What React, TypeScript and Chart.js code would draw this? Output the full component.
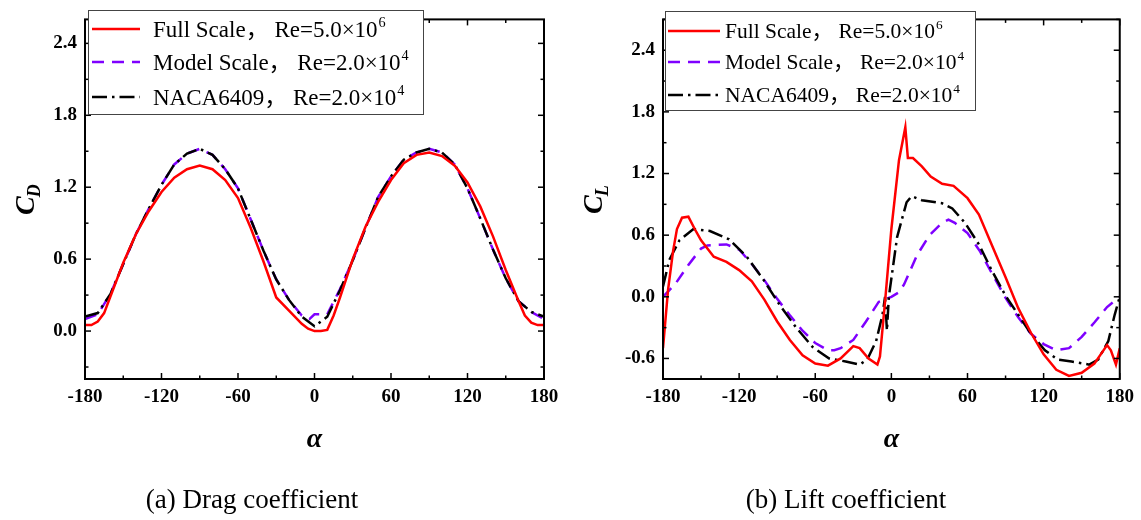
import React, { useEffect, useRef } from "react";
import { Chart, registerables } from "chart.js";

Chart.register(...registerables);

const SERIF = "'Times New Roman', 'Liberation Serif', Times, 'Noto Sans CJK SC', serif";

// ---------- data ----------
const alphaTicks = [-180, -120, -60, 0, 60, 120, 180];
const cdTicks = [0, 0.6, 1.2, 1.8, 2.4];
const clTicks = [-0.6, 0, 0.6, 1.2, 1.8, 2.4];

const seriesNames = ["Full Scale", "Model Scale", "NACA6409"];
const reynoldsText = ["Re=5.0×10", "Re=2.0×10", "Re=2.0×10"];
const reynoldsExp = ["6", "4", "4"];

// Drag coefficient
const cdFullAlpha = [-180, -175, -170, -165, -160, -150, -140, -130, -120, -110, -100, -90, -80, -70, -60, -50, -40, -30, -20, -10, -5, 0, 5, 10, 15, 20, 30, 40, 50, 60, 70, 80, 90, 100, 110, 120, 130, 140, 150, 160, 165, 170, 175, 180];
const cdFull = [0.05, 0.05, 0.08, 0.15, 0.29, 0.57, 0.81, 1.0, 1.16, 1.28, 1.35, 1.38, 1.35, 1.26, 1.11, 0.86, 0.58, 0.28, 0.17, 0.06, 0.02, 0.0, 0.0, 0.01, 0.13, 0.28, 0.6, 0.87, 1.08, 1.26, 1.4, 1.47, 1.49, 1.46, 1.38, 1.24, 1.04, 0.79, 0.51, 0.25, 0.13, 0.07, 0.05, 0.05];

const cdModelAlpha = [-180, -170, -160, -150, -140, -130, -120, -110, -100, -90, -80, -70, -60, -50, -40, -30, -20, -10, -4, 0, 5, 10, 20, 30, 40, 50, 60, 70, 80, 90, 100, 110, 120, 130, 140, 150, 160, 170, 180];
const cdModel = [0.10, 0.14, 0.31, 0.56, 0.81, 1.02, 1.22, 1.39, 1.48, 1.52, 1.47, 1.35, 1.19, 0.93, 0.67, 0.43, 0.26, 0.13, 0.10, 0.14, 0.14, 0.14, 0.35, 0.59, 0.86, 1.12, 1.29, 1.43, 1.49, 1.52, 1.49, 1.39, 1.19, 0.94, 0.68, 0.44, 0.25, 0.16, 0.10];

const cdNacaAlpha = [-180, -170, -160, -150, -140, -130, -120, -110, -100, -90, -80, -70, -60, -50, -40, -30, -20, -10, 0, 10, 20, 30, 40, 50, 60, 70, 80, 90, 100, 110, 120, 130, 140, 150, 160, 170, 180];
const cdNaca = [0.12, 0.15, 0.31, 0.56, 0.81, 1.02, 1.22, 1.39, 1.48, 1.52, 1.47, 1.35, 1.19, 0.93, 0.67, 0.43, 0.26, 0.12, 0.04, 0.12, 0.34, 0.59, 0.86, 1.12, 1.29, 1.43, 1.49, 1.52, 1.49, 1.39, 1.19, 0.94, 0.68, 0.44, 0.25, 0.16, 0.12];

// Lift coefficient
const clFullAlpha = [-180, -176, -172, -169, -165, -160, -155, -150, -145, -140, -130, -120, -110, -100, -90, -80, -70, -60, -50, -40, -30, -25, -18, -11, -9, -5, 0, 6, 11, 13, 17, 24, 31, 40, 49, 60, 69, 79, 90, 100, 110, 120, 130, 140, 150, 160, 170, 173, 177, 180];
const clFull = [-0.5, 0.07, 0.45, 0.66, 0.77, 0.78, 0.66, 0.55, 0.47, 0.39, 0.34, 0.26, 0.15, -0.03, -0.24, -0.42, -0.57, -0.65, -0.67, -0.6, -0.48, -0.5, -0.6, -0.66, -0.58, -0.05, 0.66, 1.33, 1.65, 1.35, 1.35, 1.27, 1.17, 1.1, 1.08, 0.96, 0.8, 0.51, 0.19, -0.11, -0.35, -0.56, -0.71, -0.77, -0.74, -0.65, -0.47, -0.52, -0.66, -0.5];

const clModelAlpha = [-180, -170, -160, -150, -145, -130, -120, -110, -100, -90, -80, -70, -60, -50, -45, -40, -30, -20, -10, 0, 6, 10, 20, 30, 40, 45, 50, 60, 70, 80, 90, 100, 110, 120, 130, 140, 150, 160, 170, 180];
const clModel = [0, 0.13, 0.31, 0.47, 0.5, 0.51, 0.46, 0.32, 0.16, -0.02, -0.18, -0.33, -0.45, -0.52, -0.52, -0.5, -0.42, -0.24, -0.05, 0, 0.045, 0.12, 0.4, 0.6, 0.72, 0.75, 0.72, 0.62, 0.44, 0.21, -0.01, -0.2, -0.36, -0.46, -0.52, -0.5, -0.39, -0.25, -0.1, 0];

const clNacaAlpha = [-180, -175, -167, -156, -143, -128, -114, -101, -88, -75, -62, -49, -36, -25, -19, -12, -7, -5, -3.5, -2, 4.5, 8, 12, 16, 24, 40, 48, 58, 69, 79, 90, 100, 110, 121, 131, 142, 156, 163, 171, 176, 180];
const clNaca = [0.1, 0.36, 0.55, 0.66, 0.64, 0.56, 0.39, 0.17, -0.08, -0.3, -0.49, -0.6, -0.63, -0.66, -0.61, -0.43, -0.175, 0.0, -0.33, 0.0, 0.58, 0.74, 0.92, 0.98, 0.94, 0.91, 0.86, 0.72, 0.51, 0.26, 0.01, -0.175, -0.36, -0.52, -0.61, -0.63, -0.66, -0.61, -0.43, -0.175, 0.0];

// ---------- styles ----------
const seriesColors = ["#ff0000", "#7f00ff", "#000000"];
const seriesDashes: number[][] = [[], [12, 8], [15, 5, 2.5, 5]];
const seriesOrder = [0, 2, 1];

type Legend = { x: number; y: number; w: number; h: number; rows: number[]; lx0: number; lx1: number; tx: number; font: number };

type Panel = {
  left: number;
  width: number;
  yAxisWidth: number;
  padRight: number;
  yMin: number;
  yMax: number;
  yTicks: number[];
  sub: string;
  yTitleX: number;
  caption: string;
  captionX: number;
  series: { alpha: number[]; values: number[] }[];
  legend: Legend;
};

const panels: Panel[] = [
  {
    left: 0,
    width: 571,
    yAxisWidth: 85,
    padRight: 27,
    yMin: -0.4,
    yMax: 2.6,
    yTicks: cdTicks,
    sub: "D",
    yTitleX: 25,
    caption: "(a) Drag coefficient",
    captionX: 252,
    series: [
      { alpha: cdFullAlpha, values: cdFull },
      { alpha: cdModelAlpha, values: cdModel },
      { alpha: cdNacaAlpha, values: cdNaca },
    ],
    legend: { x: 88, y: 10, w: 335, h: 104, rows: [29, 62, 97], lx0: 92, lx1: 140, tx: 153, font: 23 },
  },
  {
    left: 571,
    width: 570,
    yAxisWidth: 92,
    padRight: 19,
    yMin: -0.8,
    yMax: 2.7,
    yTicks: clTicks,
    sub: "L",
    yTitleX: 22,
    caption: "(b) Lift coefficient",
    captionX: 275,
    series: [
      { alpha: clFullAlpha, values: clFull },
      { alpha: clModelAlpha, values: clModel },
      { alpha: clNacaAlpha, values: clNaca },
    ],
    legend: { x: 94, y: 11, w: 310, h: 99, rows: [31, 62, 95], lx0: 97, lx1: 149, tx: 154, font: 21.5 },
  },
];

function decorPlugin(p: Panel) {
  return {
    id: "decor",
    afterDatasetsDraw(chart: any) {
      const ctx: CanvasRenderingContext2D = chart.ctx;
      const ca = chart.chartArea;
      const xs = chart.scales.x;
      const ys = chart.scales.y;
      ctx.save();
      ctx.strokeStyle = "#000";
      ctx.fillStyle = "#000";
      ctx.lineWidth = 1.5;
      ctx.setLineDash([]);
      const seg = (x0: number, y0: number, x1: number, y1: number) => {
        ctx.beginPath();
        ctx.moveTo(x0, y0);
        ctx.lineTo(x1, y1);
        ctx.stroke();
      };
      // x ticks (inward, mirrored)
      for (let k = -6; k <= 6; k++) {
        const px = xs.getPixelForValue(k * 30);
        const len = k % 2 === 0 ? 6 : 3.5;
        seg(px, ca.bottom, px, ca.bottom - len);
        seg(px, ca.top, px, ca.top + len);
      }
      // y ticks (inward, mirrored)
      for (let k = Math.ceil(ys.min / 0.3 - 1e-6); k * 0.3 <= ys.max + 1e-6; k++) {
        const py = ys.getPixelForValue(k * 0.3);
        const len = k % 2 === 0 ? 6 : 3.5;
        seg(ca.left, py, ca.left + len, py);
        seg(ca.right, py, ca.right - len, py);
      }
      // frame
      ctx.lineWidth = 2;
      ctx.strokeRect(ca.left, ca.top, ca.right - ca.left, ca.bottom - ca.top);

      // legend
      const L = p.legend;
      ctx.fillStyle = "#fff";
      ctx.fillRect(L.x, L.y, L.w, L.h);
      ctx.strokeStyle = "#444";
      ctx.lineWidth = 1;
      ctx.strokeRect(L.x + 0.5, L.y + 0.5, L.w, L.h);
      for (let i = 0; i < 3; i++) {
        const ry = L.rows[i];
        ctx.strokeStyle = seriesColors[i];
        ctx.lineWidth = 2.5;
        ctx.setLineDash(seriesDashes[i]);
        seg(L.lx0, ry, L.lx1, ry);
        ctx.setLineDash([]);
        ctx.fillStyle = "#000";
        ctx.textBaseline = "alphabetic";
        ctx.textAlign = "left";
        ctx.font = `${L.font}px ${SERIF}`;
        const base = ry + L.font * 0.33;
        const main = `${seriesNames[i]}， ${reynoldsText[i]}`;
        ctx.fillText(main, L.tx, base);
        const w = ctx.measureText(main).width;
        ctx.font = `${L.font * 0.62}px ${SERIF}`;
        ctx.fillText(reynoldsExp[i], L.tx + w + 1, base - L.font * 0.4);
      }

      // y title C_sub rotated
      ctx.save();
      ctx.translate(p.yTitleX, (ca.top + ca.bottom) / 2);
      ctx.rotate(-Math.PI / 2);
      ctx.fillStyle = "#000";
      ctx.textBaseline = "alphabetic";
      ctx.textAlign = "left";
      ctx.font = `italic bold 28px ${SERIF}`;
      const wC = ctx.measureText("C").width;
      ctx.font = `italic bold 18px ${SERIF}`;
      const wS = ctx.measureText(p.sub).width;
      const sx = -(wC + wS) / 2;
      ctx.font = `italic bold 28px ${SERIF}`;
      ctx.fillText("C", sx, 9);
      ctx.font = `italic bold 18px ${SERIF}`;
      ctx.fillText(p.sub, sx + wC - 1, 15);
      ctx.restore();

      // x title
      ctx.fillStyle = "#000";
      ctx.textAlign = "center";
      ctx.textBaseline = "middle";
      ctx.font = `italic bold 28px ${SERIF}`;
      ctx.fillText("α", (ca.left + ca.right) / 2, 440);

      // caption
      ctx.textBaseline = "alphabetic";
      ctx.font = `27px ${SERIF}`;
      ctx.fillText(p.caption, p.captionX, 508);
      ctx.restore();
    },
  };
}

function buildConfig(p: Panel): any {
  const datasets = p.series.map((s, i) => ({
    label: seriesNames[i],
    data: s.alpha.map((a, j) => ({ x: a, y: s.values[j] })),
    borderColor: seriesColors[i],
    backgroundColor: seriesColors[i],
    borderWidth: 2.5,
    borderDash: seriesDashes[i],
    pointRadius: 0,
    tension: 0,
    fill: false,
    order: seriesOrder[i],
  }));
  const tickFont = { family: SERIF, size: 19, weight: "bold" as const };
  return {
    type: "line",
    data: { datasets },
    options: {
      responsive: false,
      maintainAspectRatio: false,
      animation: false,
      devicePixelRatio: 1,
      layout: { padding: { left: 0, top: 8, right: p.padRight, bottom: 0 } },
      plugins: { legend: { display: false }, tooltip: { enabled: false }, title: { display: false } },
      scales: {
        x: {
          type: "linear",
          min: -180,
          max: 180,
          afterBuildTicks: (ax: any) => {
            ax.ticks = alphaTicks.map((v) => ({ value: v }));
          },
          afterFit: (ax: any) => {
            ax.height = 520 - 379;
          },
          grid: { display: false, drawTicks: false },
          border: { display: false },
          ticks: {
            font: tickFont,
            color: "#000",
            padding: 7,
            maxRotation: 0,
            autoSkip: false,
            callback: (v: any) => String(v),
          },
        },
        y: {
          type: "linear",
          min: p.yMin,
          max: p.yMax,
          afterBuildTicks: (ax: any) => {
            ax.ticks = p.yTicks.map((v) => ({ value: v }));
          },
          afterFit: (ax: any) => {
            ax.width = p.yAxisWidth;
          },
          grid: { display: false, drawTicks: false },
          border: { display: false },
          ticks: {
            font: tickFont,
            color: "#000",
            padding: 8,
            autoSkip: false,
            callback: (v: any) => Number(v).toFixed(1),
          },
        },
      },
    },
    plugins: [decorPlugin(p)],
  };
}

function PanelChart({ p }: { p: Panel }) {
  const ref = useRef<HTMLCanvasElement>(null);
  useEffect(() => {
    if (!ref.current) return;
    const chart = new Chart(ref.current, buildConfig(p));
    return () => chart.destroy();
  }, [p]);
  return (
    <canvas
      ref={ref}
      width={p.width}
      height={520}
      style={{ position: "absolute", left: p.left, top: 0, width: p.width, height: 520 }}
    />
  );
}

export default function App() {
  return (
    <div style={{ position: "absolute", left: 0, top: 0, width: 1141, height: 520, background: "#fff" }}>
      {panels.map((p, i) => (
        <PanelChart key={i} p={p} />
      ))}
    </div>
  );
}
